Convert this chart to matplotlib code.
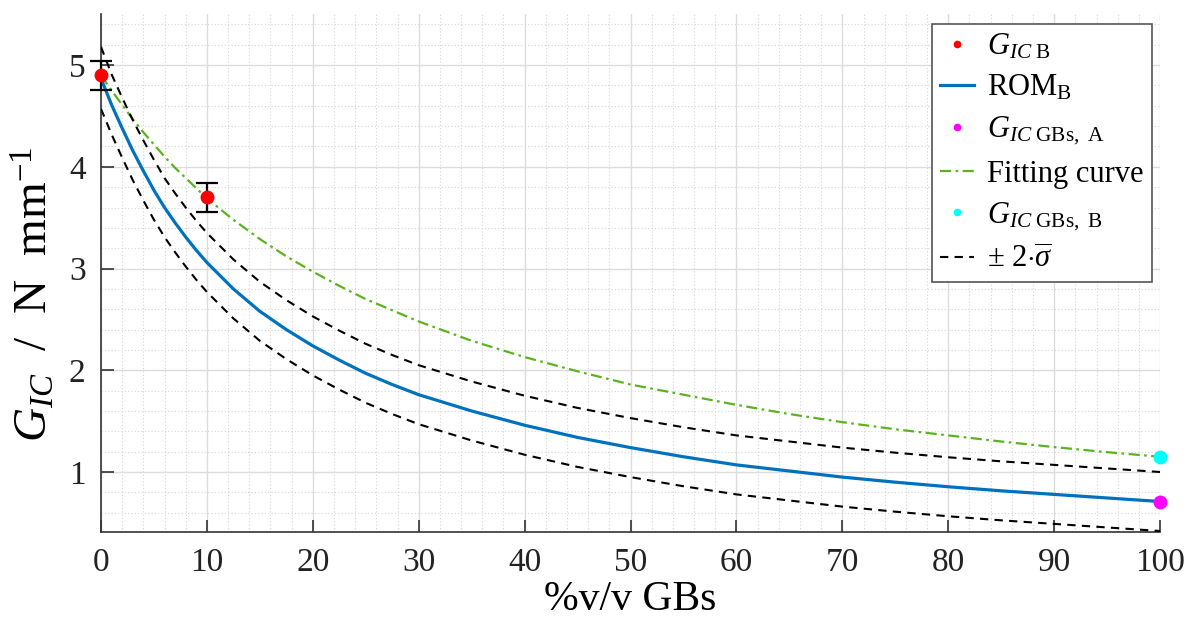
'''
G_IC versus GB content, ROM fit with +/- 2 sigma band.
'''
import numpy as np
import matplotlib
matplotlib.use('Agg')
import matplotlib.pyplot as plt

plt.rcParams['font.family'] = ['Liberation Serif', 'DejaVu Serif']
plt.rcParams['mathtext.fontset'] = 'custom'
plt.rcParams['mathtext.rm'] = 'Liberation Serif'
plt.rcParams['mathtext.it'] = 'Liberation Serif:italic'
plt.rcParams['mathtext.bf'] = 'Liberation Serif:bold'

# values
x = [0, 1, 2, 3, 4, 5, 6, 7, 8, 9, 10, 12.5, 15, 17.5, 20, 22.5, 25, 27.5,
     30, 35, 40, 45, 50, 55, 60, 65, 70, 75, 80, 85, 90, 95, 100]
rom_b = [4.87, 4.61, 4.38, 4.16, 3.96, 3.77, 3.60, 3.45, 3.31, 3.18, 3.06,
         2.80, 2.58, 2.40, 2.24, 2.10, 1.97, 1.86, 1.76, 1.60, 1.46, 1.34,
         1.24, 1.15, 1.07, 1.01, 0.95, 0.90, 0.855, 0.815, 0.78, 0.745, 0.71]
fit_curve = [4.90, 4.75, 4.61, 4.47, 4.34, 4.22, 4.10, 3.99, 3.89, 3.79, 3.69,
             3.48, 3.29, 3.12, 2.97, 2.83, 2.70, 2.59, 2.48, 2.29, 2.13, 1.99,
             1.86, 1.76, 1.66, 1.57, 1.49, 1.42, 1.36, 1.30, 1.245, 1.195, 1.15]
upper = [5.18, 4.91, 4.68, 4.46, 4.26, 4.07, 3.89, 3.74, 3.60, 3.47, 3.35,
         3.09, 2.87, 2.69, 2.53, 2.39, 2.26, 2.15, 2.05, 1.89, 1.75, 1.63,
         1.53, 1.44, 1.36, 1.30, 1.24, 1.19, 1.145, 1.105, 1.07, 1.035, 1.0]
lower = [4.57, 4.32, 4.09, 3.87, 3.67, 3.48, 3.31, 3.16, 3.02, 2.89, 2.77,
         2.51, 2.29, 2.11, 1.95, 1.81, 1.68, 1.57, 1.47, 1.31, 1.17, 1.05,
         0.95, 0.86, 0.78, 0.72, 0.66, 0.61, 0.565, 0.525, 0.49, 0.455, 0.42]

gic_b_x = [0, 10]
gic_b_y = [4.9, 3.7]
gic_b_err = [0.145, 0.145]
gbs_a = (100, 0.71)
gbs_b = (100, 1.15)

fig = plt.figure(figsize=(11.92, 6.19), dpi=100)
ax = fig.add_axes([0.0847, 0.1405, 0.8885, 0.8365])

ax.errorbar(gic_b_x, gic_b_y, yerr=gic_b_err, fmt='none', ecolor='black',
            elinewidth=1.6, capsize=8, capthick=1.6, zorder=4, clip_on=False)
ax.plot(gic_b_x, gic_b_y, 'o', color='red', markersize=9, zorder=5,
        clip_on=False, label=r'$G_{IC\ \mathrm{B}}$')
ax.plot(x, rom_b, '-', color='#0072BD', linewidth=2.3, zorder=3,
        label=r'$\mathrm{ROM_B}$')
ax.plot(*gbs_a, 'o', color='#FF00FF', markersize=9, zorder=5, clip_on=False,
        label=r'$G_{IC\ \mathrm{GBs,\ A}}$')
ax.plot(x, fit_curve, color='#5AB31E', linewidth=1.6, dashes=(5, 2, 1.2, 2),
        zorder=3, label='Fitting curve')
ax.plot(*gbs_b, 'o', color='#00FFFF', markersize=9, zorder=5, clip_on=False,
        label=r'$G_{IC\ \mathrm{GBs,\ B}}$')
ax.plot(x, upper, color='black', linewidth=1.5, dashes=(4, 3), zorder=3,
        label=r'$\pm\ 2{\cdot}\overline{\sigma}$')
ax.plot(x, lower, color='black', linewidth=1.5, dashes=(4, 3), zorder=3)

ax.set_xlim(0, 100)
ax.set_ylim(0.41, 5.5)
ax.set_xticks(np.arange(0, 101, 10))
ax.set_yticks([1, 2, 3, 4, 5])
ax.set_xticks(np.arange(0, 101, 2), minor=True)
ax.set_yticks(np.arange(0.6, 5.5, 0.2), minor=True)

ax.grid(which='major', color='#dcdcdc', linewidth=1.0, linestyle='-')
ax.grid(which='minor', color='#d4d4d4', linewidth=0.8, linestyle=(0, (1, 2)))
ax.set_axisbelow(True)

for side in ['top', 'right']:
    ax.spines[side].set_visible(False)
for side in ['left', 'bottom']:
    ax.spines[side].set_color('#333333')
    ax.spines[side].set_linewidth(1.2)

ax.tick_params(which='major', direction='in', length=9, width=1.2,
               colors='#333333', labelcolor='#222222', labelsize=24, pad=11)
ax.tick_params(which='minor', length=0)

ax.set_xlabel('%v/v GBs', fontsize=30, labelpad=2)
ax.set_ylabel(r'$G_{IC}$  /  N  mm$^{-1}$', fontsize=34)
ax.yaxis.set_label_coords(-0.041, 0.46)

leg = ax.legend(loc='upper right', bbox_to_anchor=(0.992, 0.981),
                borderaxespad=0, fontsize=22, markerscale=0.5,
                handlelength=1.1, handletextpad=0.45, labelspacing=0.4,
                borderpad=0.25, fancybox=False, framealpha=1,
                edgecolor='#555555')
leg.get_frame().set_linewidth(1.2)

fig.savefig('out.png', dpi=100)
plt.close()
